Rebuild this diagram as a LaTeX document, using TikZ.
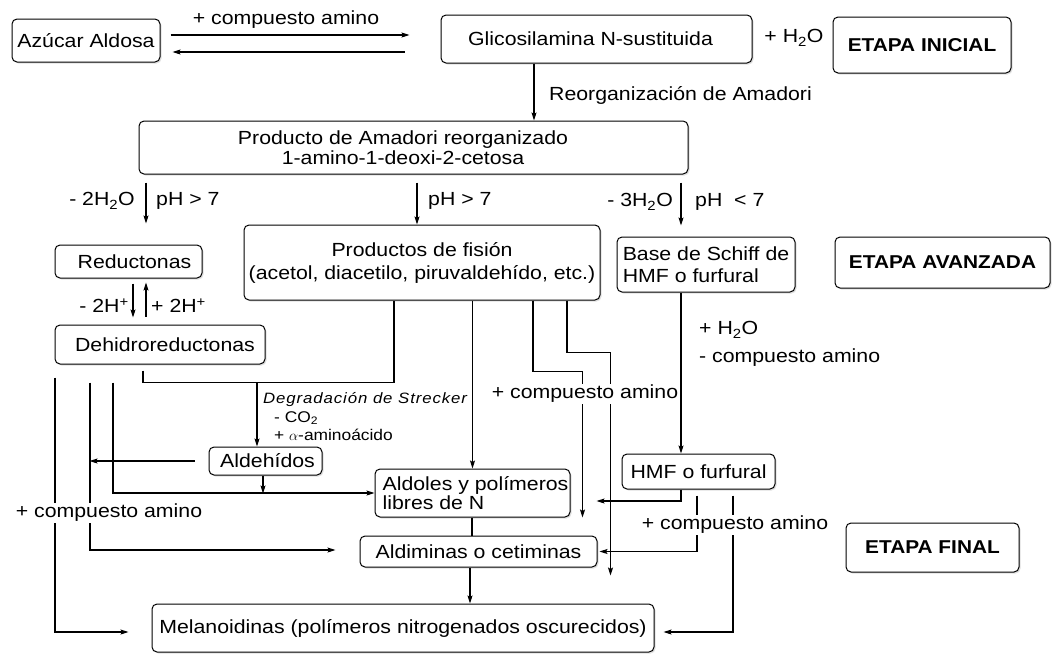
\documentclass[tikz,border=0pt]{standalone}
\usepackage{fontspec}
\setmainfont{Liberation Sans}[FakeStretch=1.12]
\usetikzlibrary{arrows.meta,shadows}
\begin{document}
\begin{tikzpicture}[x=1pt,y=-1pt,
  every node/.style={font=\fontsize{19}{22}\selectfont},
  box/.style={draw, fill=white, rounded corners=5pt, line width=1pt, inner sep=0pt, align=center,
    drop shadow={shadow xshift=1.5pt, shadow yshift=-1.5pt, opacity=0.25}},
  bold/.style={font=\fontsize{18.6}{22}\selectfont\bfseries},
  ln/.style={line width=1.1pt},
  arr/.style={ln, -{Stealth[length=8pt,width=5pt,inset=1.5pt]}},
  lbl/.style={inner sep=1pt},
  wlbl/.style={fill=white, inner sep=1.5pt},
  small/.style={font=\fontsize{15.5}{17}\selectfont}
]
\useasboundingbox (0,0) rectangle (1056,654);

% boxes
\node[box, minimum width=148pt, minimum height=43pt] (azucar) at (86,40.5) {Azúcar Aldosa};
\node[box, minimum width=311pt, minimum height=48pt] (glico) at (596.5,39) {\hspace*{-12pt}Glicosilamina N-sustituida};
\node[box, bold, minimum width=178pt, minimum height=56pt] (inicial) at (922,45) {ETAPA INICIAL};
\node[box, minimum width=549pt, minimum height=53pt, font=\fontsize{19}{20}\selectfont] (amadori) at (413.5,147.5)
  {\hspace*{-21pt}Producto de Amadori reorganizado\\\hspace*{-21pt}1-amino-1-deoxi-2-cetosa};
\node[box, minimum width=147pt, minimum height=33pt] (reductonas) at (128.5,261.5) {\hspace*{12pt}Reductonas};
\node[box, minimum width=356pt, minimum height=75pt, font=\fontsize{19}{23}\selectfont] (fision) at (422,262.5)
  {Productos de fisión\\(acetol, diacetilo, piruvaldehído, etc.)};
\node[box, align=left, minimum width=178pt, minimum height=55pt] (schiff) at (706,264.5)
  {Base de Schiff de\\HMF o furfural};
\node[box, bold, minimum width=215pt, minimum height=51pt] (avanzada) at (942.5,262.5) {ETAPA AVANZADA};
\node[box, minimum width=210pt, minimum height=39pt] (dehidro) at (160,344.5) {\hspace*{10pt}Dehidroreductonas};
\node[box, minimum width=113pt, minimum height=28pt] (aldehidos) at (265.5,461) {\hspace*{4pt}Aldehídos};
\node[box, minimum width=153pt, minimum height=35pt] (hmf) at (698.5,471.5) {HMF o furfural};
\node[box, align=left, minimum width=195pt, minimum height=48pt, font=\fontsize{19}{19}\selectfont] (aldoles) at (472.5,493)
  {\hspace*{6pt}Aldoles y polímeros\\\hspace*{6pt}libres de N};
\node[box, minimum width=237pt, minimum height=31pt] (aldiminas) at (478.5,551.5) {Aldiminas o cetiminas};
\node[box, bold, minimum width=173pt, minimum height=49pt] (final) at (932.5,547.5) {ETAPA FINAL};
\node[box, minimum width=502pt, minimum height=48pt] (melano) at (403,628)
  {Melanoidinas (polímeros nitrogenados oscurecidos)};

\coordinate (jS) at (257,382);

% connectors
\draw[arr] ([shift={(10,-5.5)}]azucar.east) -- ([shift={(-31,-4)}]glico.west);
\draw[arr] ([shift={(-36,13)}]glico.west) -- ([shift={(12,11.5)}]azucar.east);
\draw[arr] (glico.south -| 534,0) -- (amadori.north -| 534,0);
\draw[arr] (amadori.south -| 146,0) ++(0,8) -- ++(0,41);
\draw[arr] (amadori.south -| 417,0) ++(0,8) -- (fision.north -| 417,0);
\draw[arr] (amadori.south -| 681,0) ++(0,8) -- ++(0,43);
\draw[arr] (reductonas.south -| 133,0) ++(0,5) -- ++(0,34);
\draw[arr] (dehidro.north -| 146,0) ++(0,-8) -- ++(0,-34);

\draw[arr] (dehidro.south -| 55,0) ++(0,13) |- ([shift={(-23,4)}]melano.west);
\draw[arr] (dehidro.south -| 90,0) ++(0,18) |- ([shift={(-24,-1.5)}]aldiminas.west);
\draw[arr] (dehidro.south -| 113,0) ++(0,18) |- (aldoles.west);
\draw[ln] (dehidro.south -| 143,0) ++(0,6) -- ++(0,12) -| (fision.south -| 394,0);
\draw[arr] (jS) -- (aldehidos.north -| jS);
\draw[arr] ([xshift=-14pt]aldehidos.west) -- ++(-105,0);
\draw[arr] (aldehidos.south -| 263,0) -- ++(0,18);

\draw[arr] (fision.south -| aldoles.north) -- (aldoles.north);
\draw[arr] (fision.south -| 533,0) -- ++(0,71) -| ([xshift=12pt]aldoles.south east);
\draw[arr] (fision.south -| 567,0) -- ++(0,52) -| ([shift={(13,8)}]aldiminas.south east);
\draw[arr] (schiff.south -| 681,0) -- (hmf.north -| 681,0);
\draw[arr] (hmf.south -| 681,0) |- ([shift={(26,8)}]aldoles.east);
\draw[arr] (hmf.south -| 697,0) ++(0,6) |- ([xshift=2pt]aldiminas.east);
\draw[arr] (hmf.south -| 733,0) ++(0,6) |- ([shift={(9,4)}]melano.east);
\draw[ln] (aldoles.south -| 472,0) -- (aldiminas.north -| 472,0);
\draw[arr] (aldiminas.south -| 470,0) -- (melano.north -| 470,0);

% labels
\node[lbl] (lca) at (286,20) {+ compuesto amino};
\node[lbl, anchor=west] (lreo) at (548,95) {Reorganización de Amadori};
\node[lbl] (lh2o) at (794,38) {+ H\textsubscript{2}O};
\node[lbl, anchor=east] (l2h2o) at (136,201) {- 2H\textsubscript{2}O};
\node[lbl, anchor=west] (lph1) at (155,201) {pH > 7};
\node[lbl, anchor=west] (lph2) at (427,201) {pH > 7};
\node[lbl, anchor=east] (l3h2o) at (674,202) {- 3H\textsubscript{2}O};
\node[lbl, anchor=west] (lph3) at (694,202) {pH~~< 7};
\node[lbl, anchor=east] (lmh) at (130,306) {- 2H\textsuperscript{+}};
\node[lbl, anchor=west] (lph) at (150,306) {+ 2H\textsuperscript{+}};
\node[lbl, anchor=west, font=\fontsize{15}{17}\selectfont\itshape\addfontfeature{LetterSpace=6}] (lstr) at (262,400) {Degradación de Strecker};
\node[lbl, anchor=west, small] (lco2) at (273,418) {- CO\textsubscript{2}};
\node[lbl, anchor=west, small] (lamino) at (273,435) {+ $\alpha$-aminoácido};
\node[lbl, anchor=west] (lh2ob) at (698,330) {+ H\textsubscript{2}O};
\node[lbl, anchor=west] (lmca) at (698,358) {- compuesto amino};
\node[wlbl] (lcam) at (585,394) {+ compuesto amino};
\node[wlbl] (lcal) at (109,513) {+ compuesto amino};
\node[wlbl] (lcar) at (735,525) {+ compuesto amino};
\end{tikzpicture}
\end{document}
